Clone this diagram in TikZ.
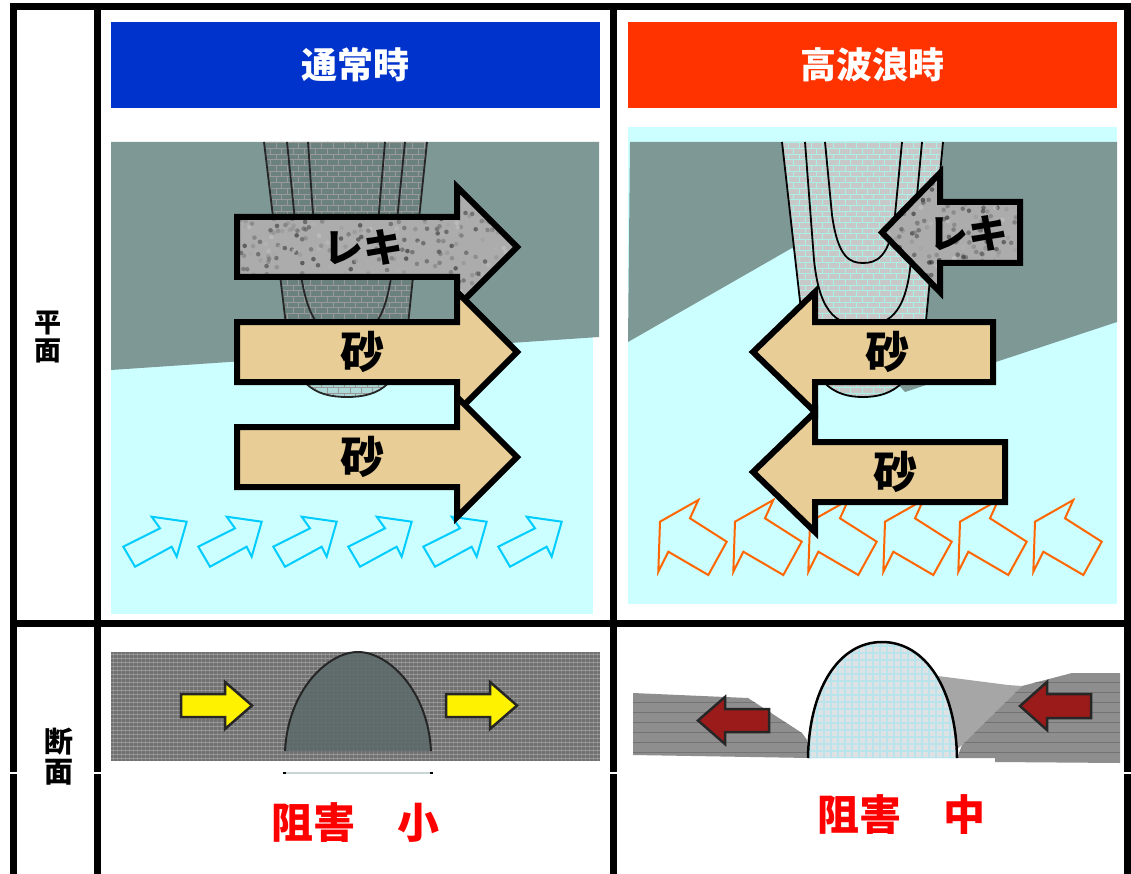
\documentclass[tikz,border=0pt]{standalone}
\usepackage{fontspec}
\newfontfamily\jp{Noto Sans CJK JP}
\usetikzlibrary{patterns}
\definecolor{plangray}{RGB}{126,152,149}
\definecolor{seacyan}{RGB}{204,255,255}
\definecolor{hdrblue}{RGB}{0,51,204}
\definecolor{hdrred}{RGB}{255,51,0}
\definecolor{sand}{RGB}{232,206,150}
\definecolor{gravel}{RGB}{172,172,172}
\definecolor{wavecyan}{RGB}{0,204,255}
\definecolor{waveorange}{RGB}{255,102,0}
\definecolor{secgray}{RGB}{112,112,112}
\definecolor{secgrid}{RGB}{152,152,152}
\definecolor{moundgray}{RGB}{92,106,106}
\definecolor{lightmound}{RGB}{222,226,228}
\definecolor{moundgrid}{RGB}{185,228,236}
\definecolor{midgray}{RGB}{142,142,142}
\definecolor{trigray}{RGB}{166,166,166}
\definecolor{darkred}{RGB}{155,27,27}
\definecolor{harmred}{RGB}{255,0,0}
\definecolor{brickgray}{RGB}{200,200,200}
\definecolor{mortar}{RGB}{170,240,230}
\tikzset{
  frameline/.style={line width=7pt, draw=black},
  bigarrow/.style={line width=6pt, draw=black, line join=miter, miter limit=3},
  wavearrow/.style={line width=2pt, line join=miter},
  secarrow/.style={line width=2.5pt, draw=black!85, line join=miter},
  ulines/.style={line width=1.8pt, draw=black!85},
  jpfont/.style={font=\jp\bfseries\fontsize{#1}{#1}\selectfont},
}
\begin{document}
\begin{tikzpicture}[x=1pt,y=-1pt]
\useasboundingbox (0,0) rectangle (1131,874);
\fill[white] (0,0) rectangle (1131,874);

% ---------- headers ----------
\node[name=hdrL, fill=hdrblue, minimum width=489pt, minimum height=86pt, inner sep=0pt, text=white, jpfont=36] at (355.5,65) {通常時};
\node[name=hdrR, fill=hdrred, minimum width=489pt, minimum height=86pt, inner sep=0pt, text=white, jpfont=36] at (872.5,65) {高波浪時};

% ---------- left plan ----------
\fill[seacyan] (111,142) rectangle (593,614);
\fill[plangray] (111,142) -- (599,142) -- (599,337) -- (111,370) -- cycle;
\fill[black, opacity=0.15] (264,142) -- (286,325) .. controls (290,385) and (315,397) .. (347,397) .. controls (379,397) and (404,385) .. (408,325) -- (427,142) -- cycle;
\path[pattern=bricks, pattern color=black!40] (264,142) -- (286,325) .. controls (290,385) and (315,397) .. (347,397) .. controls (379,397) and (404,385) .. (408,325) -- (427,142) -- cycle;
\draw[ulines] (264,142) -- (286,325) .. controls (290,385) and (315,397) .. (347,397) .. controls (379,397) and (404,385) .. (408,325) -- (427,142);
\draw[ulines] (287,142) -- (298,250) .. controls (305,330) and (325,335) .. (346,335) .. controls (368,335) and (388,330) .. (394,250) -- (405,142);
\draw[ulines] (308,142) -- (312,200) .. controls (316,262) and (330,268) .. (346,268) .. controls (362,268) and (376,262) .. (380,200) -- (385,142);

\foreach \k in {0,...,5}{
  \draw[wavearrow, draw=wavecyan, shift={(75*\k,0)}] (123.3,546.7) -- (160,528.3) -- (151.7,516.7) -- (186.7,521.7) -- (176.7,556.7) -- (171.7,546.7) -- (135,566.7) -- cycle;
}

% gravel arrow left
\pgfmathsetseed{7}
\begin{scope}
\clip (237,217) -- (457,217) -- (457,187) -- (517,247) -- (457,307) -- (457,277) -- (237,277) -- cycle;
\fill[gravel] (230,180) rectangle (520,310);
\foreach \i in {1,...,420}{
  \pgfmathsetmacro{\px}{230+290*rnd}
  \pgfmathsetmacro{\py}{180+130*rnd}
  \pgfmathtruncatemacro{\sh}{20+70*rnd}
  \fill[black!\sh!white, opacity=0.55] (\px,\py) circle[radius=2.3pt];
}
\end{scope}
\draw[bigarrow] (237,217) -- (457,217) -- (457,187) -- (517,247) -- (457,307) -- (457,277) -- (237,277) -- cycle;
\draw[bigarrow, fill=sand] (237,322) -- (457,322) -- (457,292) -- (517,352) -- (457,412) -- (457,382) -- (237,382) -- cycle;
\draw[bigarrow, fill=sand] (237,427) -- (457,427) -- (457,397) -- (517,457) -- (457,517) -- (457,487) -- (237,487) -- cycle;
\node[name=rekiL, jpfont=40] at (363,247) {レキ};
\node[name=sunaL1, jpfont=44] at (362,352) {砂};
\node[name=sunaL2, jpfont=44] at (362,457) {砂};

% ---------- right plan ----------
\fill[seacyan] (628,127) rectangle (1117,604);
\fill[plangray] (630,142) -- (1117,142) -- (1117,322) -- (905,392) -- (880,365) -- (810,255) -- (792,248) -- (628,342) -- cycle;
\fill[brickgray] (782,142) -- (801,310) .. controls (806,385) and (835,397) .. (863,397) .. controls (891,397) and (921,385) .. (927,310) -- (943,142) -- cycle;
\path[pattern=bricks, pattern color=mortar] (782,142) -- (801,310) .. controls (806,385) and (835,397) .. (863,397) .. controls (891,397) and (921,385) .. (927,310) -- (943,142) -- cycle;
\draw[ulines, draw=black] (782,142) -- (801,310) .. controls (806,385) and (835,397) .. (863,397) .. controls (891,397) and (921,385) .. (927,310) -- (943,142);
\draw[ulines, draw=black] (805,142) -- (814,260) .. controls (820,318) and (840,325) .. (863,325) .. controls (886,325) and (906,318) .. (911,260) -- (922,142);
\draw[ulines, draw=black] (825,142) -- (832,215) .. controls (838,258) and (850,263) .. (863,263) .. controls (876,263) and (890,258) .. (895,215) -- (902,142);

\foreach \k in {0,...,5}{
  \draw[wavearrow, draw=waveorange, shift={(75*\k,0)}] (660,521.7) -- (698.3,500) -- (690,518.3) -- (726.7,541.7) -- (708.3,575) -- (668.3,551.7) -- (658.3,571.7) -- cycle;
}

\begin{scope}
\clip (1020,202) -- (940,202) -- (940,173) -- (882,232.5) -- (940,292) -- (940,263) -- (1020,263) -- cycle;
\fill[gravel] (875,170) rectangle (1025,295);
\foreach \i in {1,...,260}{
  \pgfmathsetmacro{\px}{875+150*rnd}
  \pgfmathsetmacro{\py}{170+125*rnd}
  \pgfmathtruncatemacro{\sh}{20+70*rnd}
  \fill[black!\sh!white, opacity=0.55] (\px,\py) circle[radius=2.3pt];
}
\end{scope}
\draw[bigarrow] (1020,202) -- (940,202) -- (940,173) -- (882,232.5) -- (940,292) -- (940,263) -- (1020,263) -- cycle;
\draw[bigarrow, fill=sand] (993,322) -- (815,322) -- (815,292) -- (753,352) -- (815,412) -- (815,382) -- (993,382) -- cycle;
\draw[bigarrow, fill=sand] (1005,442) -- (815,442) -- (815,412) -- (753,472) -- (815,532) -- (815,502) -- (1005,502) -- cycle;
\node[name=rekiR, jpfont=40] at (968,233) {レキ};
\node[name=sunaR1, jpfont=44] at (887,352) {砂};
\node[name=sunaR2, jpfont=44] at (895,472) {砂};

% ---------- left section ----------
\fill[secgray] (111,652) rectangle (600,761);
\begin{scope}
\clip (111,652) rectangle (600,761);
\foreach \yy in {654,658,...,760} \draw[secgrid, line width=0.7pt] (111,\yy) -- (600,\yy);
\foreach \xx in {113,117,...,600} \draw[secgrid, line width=0.5pt, opacity=0.6] (\xx,652) -- (\xx,761);
\end{scope}
\filldraw[fill=moundgray, draw=black!85, line width=2pt, fill opacity=0.85] (285,751) .. controls (288,690) and (328,652) .. (358,652) .. controls (388,652) and (428,690) .. (431,751);
\draw[secarrow, fill=yellow] (181,694) -- (225,694) -- (225,682) -- (252,705.5) -- (225,729) -- (225,717) -- (181,717) -- cycle;
\draw[secarrow, fill=yellow] (446,694) -- (490,694) -- (490,682) -- (517,705.5) -- (490,729) -- (490,717) -- (446,717) -- cycle;
\draw[color={rgb,255:red,200;green,214;blue,214}, line width=1.5pt] (284,773) -- (432,773);
\fill[black] (283,772.2) rectangle (286,773.8);
\fill[black] (430,772.2) rectangle (433,773.8);

% ---------- right section ----------
\fill[midgray] (633,693) -- (748,698) -- (802,733) -- (807,740) -- (809,758) -- (633,755) -- cycle;
\begin{scope}
\clip (633,693) -- (748,698) -- (802,733) -- (807,740) -- (809,758) -- (633,755) -- cycle;
\foreach \yy in {702,712,...,752} \draw[black!55, line width=0.8pt] (630,\yy) -- (815,\yy);
\end{scope}
\fill[trigray] (930,675) -- (1008,685) -- (1022,686) -- (962,745) -- (950,755) -- cycle;
\fill[midgray] (957,758) -- (962,745) -- (1022,686) -- (1072,673) -- (1120,673) -- (1120,763) -- (995,762) -- (995,758) -- cycle;
\begin{scope}
\clip (957,758) -- (962,745) -- (1022,686) -- (1072,673) -- (1120,673) -- (1120,763) -- (995,762) -- (995,758) -- cycle;
\foreach \yy in {682,692,...,752} \draw[black!55, line width=0.8pt] (950,\yy) -- (1120,\yy);
\end{scope}
\fill[lightmound] (808,758) .. controls (809,690) and (838,642) .. (882,642) .. controls (926,642) and (956,690) .. (957,758) -- cycle;
\begin{scope}
\clip (808,758) .. controls (809,690) and (838,642) .. (882,642) .. controls (926,642) and (956,690) .. (957,758) -- cycle;
\foreach \yy in {646,653,...,760} \draw[moundgrid, line width=1.2pt] (805,\yy) -- (960,\yy);
\foreach \xx in {810,817,...,960} \draw[moundgrid, line width=1.2pt] (\xx,640) -- (\xx,760);
\end{scope}
\draw[black, line width=2.5pt] (808,758) .. controls (809,690) and (838,642) .. (882,642) .. controls (926,642) and (956,690) .. (957,758);
\draw[secarrow, fill=darkred] (769,709) -- (725,709) -- (725,697) -- (698,720.5) -- (725,744) -- (725,732) -- (769,732) -- cycle;
\draw[secarrow, fill=darkred] (1091,694) -- (1047,694) -- (1047,682) -- (1020,706) -- (1047,730) -- (1047,718) -- (1091,718) -- cycle;

% ---------- results ----------
\node[name=harmL, text=harmred, jpfont=42] at (355,823) {阻害　小};
\node[name=harmR, text=harmred, jpfont=42] at (901,815) {阻害　中};

% ---------- row labels ----------
\node[name=lblplan, align=center, font=\jp\bfseries\fontsize{27}{28}\selectfont] at (47.5,337.5) {平\\面};
\node[name=lblsec, align=center, font=\jp\bfseries\fontsize{29}{30}\selectfont] at (58.5,756.5) {断\\面};

% ---------- frame ----------
\draw[frameline] (10,6.5) -- (1131,6.5);
\draw[frameline] (13.5,3) -- (13.5,874);
\draw[frameline] (97.5,3) -- (97.5,874);
\draw[frameline] (613.5,3) -- (613.5,874);
\draw[frameline] (1127.5,3) -- (1127.5,874);
\draw[frameline] (10,623.5) -- (1131,623.5);
\foreach \xx in {13.5,97.5,613.5,1127.5} \fill[white] (\xx-5,772.3) rectangle (\xx+5,773.8);
\end{tikzpicture}
\end{document}
